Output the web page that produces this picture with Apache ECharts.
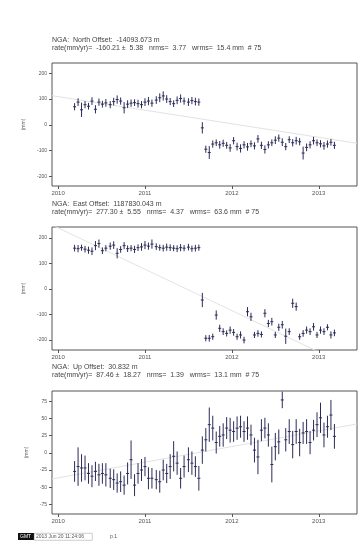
<!DOCTYPE html>
<html><head><meta charset="utf-8">
<script src="https://cdn.jsdelivr.net/npm/echarts@6/dist/echarts.min.js"></script>
<style>html,body{margin:0;padding:0;background:#fff}#c{width:358px;height:541px}</style>
</head><body><div id="c"></div>
<script>
// ---- data ----
const epochs = [
 2010.19,2010.23,2010.27,2010.31,2010.35,2010.39,2010.43,2010.47,2010.51,2010.55,
 2010.60,2010.64,2010.68,2010.72,2010.76,2010.80,2010.84,2010.88,2010.92,2010.96,
 2011.00,2011.04,2011.08,2011.13,2011.17,2011.21,2011.25,2011.29,2011.33,2011.37,
 2011.41,2011.45,2011.50,2011.54,2011.58,2011.62,
 2011.66,
 2011.70,2011.74,2011.78,2011.82,2011.86,2011.90,2011.94,2011.98,2012.02,2012.06,
 2012.10,2012.14,2012.18,2012.22,2012.26,2012.30,2012.34,2012.38,2012.42,2012.46,
 2012.50,2012.54,2012.58,2012.62,2012.66,2012.70,2012.74,2012.78,2012.82,2012.86,
 2012.90,2012.94,2012.98,2013.02,2013.06,2013.10,2013.14,2013.18];
const north = [
 70,88,58,78,72,92,60,88,80,85, 78,90,98,92,66,80,84,86,82,78,
 88,92,84,96,105,112,100,90,82,95, 102,92,88,94,90,88,
 -12,
 -95,-108,-75,-70,-78,-72,-80,-90,-62,-85, -92,-78,-86,-74,-82,-55,-80,-96,-78,-70,
 -60,-52,-68,-85,-58,-70,-62,-66,-110,-88, -78,-62,-70,-74,-82,-75,-68,-80];
const northErr = [
 14,15,28,14,13,15,16,14,13,15,14,15,16,14,22,15,14,13,15,14,15,16,14,15,17,18,15,14,13,15,16,14,15,14,15,14,
 22,
 14,25,14,13,15,14,13,15,14,15,16,14,15,13,14,15,14,16,14,13,15,14,15,14,13,14,15,14,25,15,14,15,13,14,15,14,13,14];
const east = [
 160,158,162,156,152,148,170,178,150,160, 168,172,140,155,170,158,160,155,162,165,
 172,168,176,166,162,160,164,162,160,158, 162,160,164,158,160,162,
 -43,
 -193,-193,-187,-102,-154,-167,-174,-161,-170,-187, -180,-200,-89,-109,-180,-174,-178,-95,-135,-128,
 -180,-150,-140,-185,-167,-56,-69,-187,-174,-161, -167,-148,-180,-161,-167,-150,-180,-172];
const eastErr = [
 13,14,12,13,14,15,18,16,13,12,14,15,20,13,14,13,12,14,13,15,16,14,18,13,12,13,14,13,12,13,14,12,13,12,13,12,
 28,
 12,13,12,18,14,13,12,14,13,12,14,13,18,16,12,13,12,16,14,15,12,14,15,30,13,18,16,12,13,14,13,15,12,14,13,12,14,13];
const up = [
 -27,-20,-22,-22,-30,-34,-27,-32,-30,-32, -37,-39,-44,-42,-47,-30,-10,-47,-30,-25,
 -20,-37,-37,-39,-42,-25,-30,-20,-5,-15, -37,-20,-10,-15,-20,-37,
 4,
 19,41,36,15,24,26,36,33,31,36, 38,31,36,26,4,-6,33,36,26,-17,
 9,16,77,19,31,12,31,15,29,31, 15,33,41,51,26,38,55,24];
const upErr = [
 15,28,20,18,15,16,14,16,15,17,14,15,14,15,14,16,28,16,15,16,14,16,15,14,16,15,14,18,22,17,15,16,18,17,15,18,
 20,
 17,25,18,16,15,17,16,18,15,17,16,15,17,15,18,25,16,15,17,26,20,18,12,17,18,20,18,20,16,18,17,15,18,22,18,16,22,18];
const northFit = [[2009.93,113],[2013.44,-72]];
const eastFit = [[2009.93,251],[2013.44,-318]];
const upFit = [[2009.93,-38],[2013.44,42]];
const xTicks = [2010,2011,2012,2013];
const nTicks = [-200,-100,0,100,200];
const eTicks = [-200,-100,0,100,200];
const uTicks = [-75,-50,-25,0,25,50,75];
const titles = [
 ["NGA:  North Offset:  -14093.673 m","rate(mm/yr)=  -160.21 \u00b1  5.38   nrms=  3.77   wrms=  15.4 mm  # 75"],
 ["NGA:  East Offset:  1187830.043 m","rate(mm/yr)=  277.30 \u00b1  5.55   nrms=  4.37   wrms=  63.6 mm  # 75"],
 ["NGA:  Up Offset:  30.832 m","rate(mm/yr)=  87.46 \u00b1  18.27   nrms=  1.39   wrms=  13.1 mm  # 75"]
];

// ---- chart ----
const FONT = '"Liberation Sans", Arial, sans-serif';
const BAR = '#2b2b58';
const chart = echarts.init(document.getElementById('c'), null, {renderer:'canvas'});
const tops = [63,227,391];
const grids = tops.map(t => ({left:52, top:t, width:305, height:123, show:true, borderColor:'#555', borderWidth:1, backgroundColor:'#fff'}));
const ranges = [[-238,240],[-239,243],[-89,90]];
const yt = [nTicks,eTicks,uTicks];
const fmt = v => String(v);
const xAxes = tops.map((t,i)=>({type:'value', gridIndex:i, min:2009.93, max:2013.44,
  axisLine:{show:false, onZero:false}, splitLine:{show:false},
  axisTick:{show:true, length:3, customValues:xTicks, lineStyle:{color:'#555'}},
  axisLabel:{customValues:xTicks, formatter:fmt, fontSize:6, color:'#555', margin:4, fontFamily:FONT}}));
const yAxes = tops.map((t,i)=>({type:'value', gridIndex:i, min:ranges[i][0], max:ranges[i][1],
  name:'(mm)', nameLocation:'middle', nameGap:23, nameRotate:90,
  nameTextStyle:{fontSize:5, color:'#666', fontFamily:FONT},
  axisLine:{show:false, onZero:false}, splitLine:{show:false},
  axisTick:{show:true, length:3, customValues:yt[i], lineStyle:{color:'#555'}},
  axisLabel:{customValues:yt[i], formatter:fmt, fontSize:5, color:'#555', margin:5, fontFamily:FONT}}));

function errSeries(i, vals, errs){
  const data = epochs.map((t,k)=>[t, vals[k], errs[k]]);
  return {type:'custom', xAxisIndex:i, yAxisIndex:i, data, clip:true, z:3,
    renderItem(params, api){
      const x = api.value(0), y = api.value(1), e = api.value(2);
      const a = api.coord([x, y+e]), b = api.coord([x, y-e]), c = api.coord([x, y]);
      return {type:'group', children:[
        {type:'line', shape:{x1:a[0],y1:a[1],x2:b[0],y2:b[1]}, style:{stroke:BAR, lineWidth:1}},
        {type:'line', shape:{x1:c[0]-1.5,y1:c[1],x2:c[0]+1.5,y2:c[1]}, style:{stroke:BAR, lineWidth:1}}
      ]};
    }};
}
function fitSeries(i, d){
  return {type:'line', xAxisIndex:i, yAxisIndex:i, data:d, symbol:'none', silent:true, clip:true, z:2,
    lineStyle:{color:'#e3e3e3', width:1}};
}
const graphic = [];
titles.forEach((tt,i)=>{
  const y0 = [37,201,364][i];
  graphic.push({type:'text', left:52, top:y0, style:{text:tt[0], fontSize:7, fill:'#444', fontFamily:FONT}});
  graphic.push({type:'text', left:52, top:y0+8, style:{text:tt[1], fontSize:7, fill:'#444', fontFamily:FONT}});
});
graphic.push({type:'rect', left:18, top:533, shape:{width:16, height:7}, style:{fill:'#111'}});
graphic.push({type:'text', left:20, top:534, style:{text:'GMT', fontSize:5, fill:'#fff', fontFamily:FONT}});
graphic.push({type:'rect', left:34, top:533, shape:{width:58, height:7}, style:{fill:'#fff', stroke:'#999', lineWidth:0.5}});
graphic.push({type:'text', left:36, top:534, style:{text:'2013 Jun 20 11:24:06', fontSize:5, fill:'#555', fontFamily:FONT}});
graphic.push({type:'text', left:110, top:534, style:{text:'p.1', fontSize:5, fill:'#555', fontFamily:FONT}});

chart.setOption({
  animation:false,
  grid:grids, xAxis:xAxes, yAxis:yAxes,
  series:[fitSeries(0,northFit), errSeries(0,north,northErr),
          fitSeries(1,eastFit), errSeries(1,east,eastErr),
          fitSeries(2,upFit), errSeries(2,up,upErr)],
  graphic
});
</script></body></html>
